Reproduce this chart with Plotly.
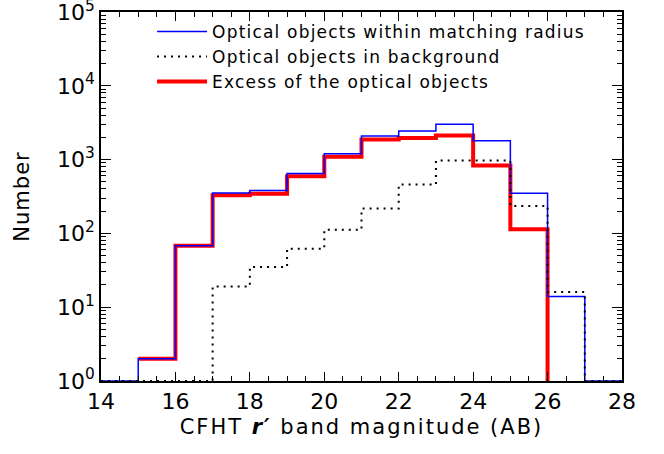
import plotly.graph_objects as go

# Bin edges (CFHT r' magnitude) and counts per 1-mag bin
bin_edges = [14, 15, 16, 17, 18, 19, 20, 21, 22, 23, 24, 25, 26, 27, 28]
matching = [0, 2, 68, 353, 380, 646, 1200, 2090, 2440, 3007, 1808, 349, 14, 0]
background = [0, 0, 0, 19, 35, 62, 112, 217, 459, 969, 969, 235, 16, 0]
excess = [0, 2, 68, 328, 345, 594, 1097, 1866, 1960, 2114, 829, 114, 0, 0]

y_floor = 1  # bottom of the log axis; zero-count bins are drawn here
ytick_vals = [1, 10, 100, 1000, 10000, 100000]
ytick_text = ["10<sup>%d</sup>" % i for i in range(6)]
xtick_vals = [14, 16, 18, 20, 22, 24, 26, 28]


def steps(edges, counts):
    xs = list(edges[:-1]) + [edges[-1]]
    ys = [c if c > 0 else y_floor for c in counts] + [counts[-1] if counts[-1] > 0 else y_floor]
    return xs, ys


def spaced(text, px):
    return '<span style="letter-spacing:%spx">%s</span>' % (px, text)


bx, by = steps(bin_edges, matching)
gx, gy = steps(bin_edges, background)
# excess: drawn from first non-empty bin to where it drops to zero
first = next(i for i, v in enumerate(excess) if v > 0)
last = max(i for i, v in enumerate(excess) if v > 0)
ex = bin_edges[first:last + 2]
ey = excess[first:last + 1] + [y_floor]

fig = go.Figure()
fig.add_trace(go.Scatter(
    x=ex, y=ey, mode="lines", line=dict(shape="hv", color="#ff0000", width=4),
    name=spaced("Excess of the optical objects", 1.2), legendrank=3))
fig.add_trace(go.Scatter(
    x=bx, y=by, mode="lines", line=dict(shape="hv", color="#0000ff", width=1.5),
    name=spaced("Optical objects within matching radius", 1.2), legendrank=1))
fig.add_trace(go.Scatter(
    x=gx, y=gy, mode="lines",
    line=dict(shape="hv", color="black", width=2, dash="2px,5px"),
    name=spaced("Optical objects in background", 1.2), legendrank=2))

font_family = "DejaVu Sans"
fig.update_layout(
    width=664, height=454,
    margin=dict(l=101, r=42, t=12, b=73),
    paper_bgcolor="white", plot_bgcolor="white",
    font=dict(family=font_family, color="black", size=20),
    showlegend=True,
    legend=dict(x=0.098, y=0.995, xanchor="left", yanchor="top",
                bgcolor="rgba(0,0,0,0)", font=dict(size=17),
                tracegroupgap=0, itemwidth=50),
    xaxis=dict(
        range=[14, 28], tickvals=xtick_vals, ticks="inside", ticklen=9,
        tickwidth=1.2, tickcolor="black", automargin=False,
        ticklabeloverflow="allow",
        showline=True, linecolor="black", linewidth=1.5, mirror="ticks",
        showgrid=False, zeroline=False,
        minor=dict(ticks="inside", ticklen=5, dtick=0.5, tickcolor="black", showgrid=False),
        tickfont=dict(size=22),
        title=dict(text=spaced("CFHT <b><i>r′</i></b> band magnitude (AB)", 2),
                   font=dict(size=21), standoff=6),
    ),
    yaxis=dict(
        type="log", range=[-0.0005, 5.0005], tickvals=ytick_vals, ticktext=ytick_text,
        ticks="inside", ticklen=10, tickwidth=1.2, tickcolor="black", automargin=False,
        ticklabeloverflow="allow",
        showline=True, linecolor="black", linewidth=1.5, mirror="ticks",
        showgrid=False, zeroline=False,
        minor=dict(ticks="inside", ticklen=5, dtick="D1", tickcolor="black", showgrid=False),
        tickfont=dict(size=22),
        title=dict(text=spaced("Number", 1), font=dict(size=21), standoff=22),
    ),
)

fig.write_html("out.html", config={"displayModeBar": False},
               post_script="document.body.style.margin='0px';document.body.style.overflow='hidden';")
